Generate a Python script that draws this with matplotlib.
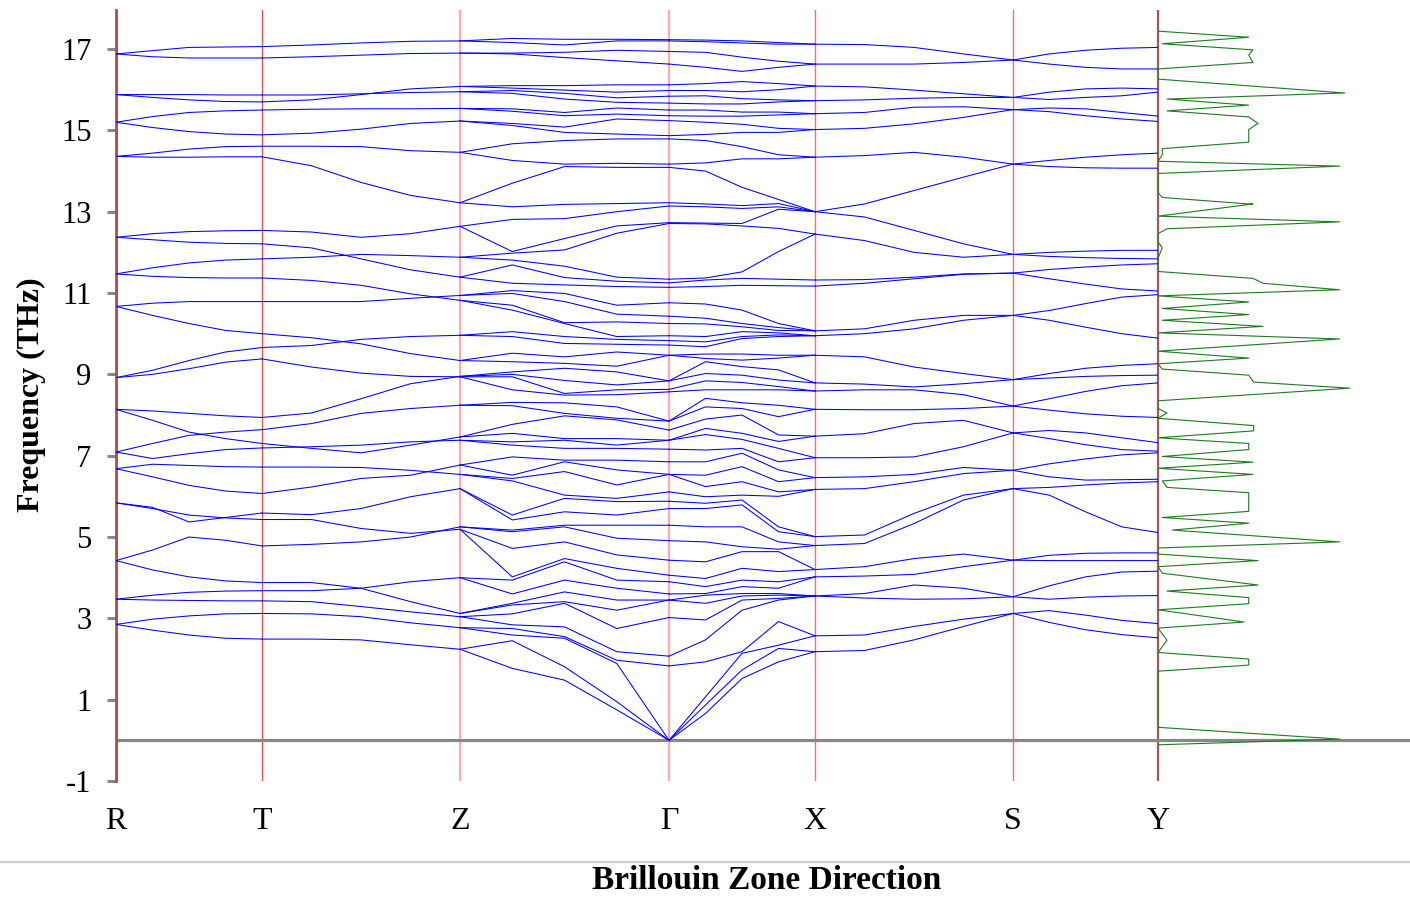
import numpy as np
import matplotlib
matplotlib.use("Agg")
import matplotlib.pyplot as plt
from matplotlib.transforms import blended_transform_factory
from matplotlib.lines import Line2D

plt.rcParams['font.family'] = ['Liberation Serif', 'DejaVu Serif']
plt.rcParams['axes.unicode_minus'] = False

# high-symmetry points (path distance, arbitrary units)
k_labels = ['R', 'T', 'Z', 'Γ', 'X', 'S', 'Y']
k_pos = [0, 146, 344, 553, 699, 897, 1042]

# ---- band data: each row a band, values (THz) sampled evenly along the segment ----
seg_RT = [
    [16.88, 16.96, 17.04, 17.05, 17.06], [16.88, 16.81, 16.78, 16.78, 16.78],
    [15.88, 15.88, 15.88, 15.87, 15.87], [15.88, 15.81, 15.75, 15.71, 15.70],
    [15.20, 15.34, 15.44, 15.48, 15.50], [15.20, 15.07, 14.97, 14.91, 14.89],
    [14.36, 14.44, 14.54, 14.60, 14.61], [14.36, 14.34, 14.34, 14.35, 14.35],
    [12.37, 12.46, 12.51, 12.53, 12.54], [12.37, 12.31, 12.25, 12.22, 12.21],
    [11.47, 11.62, 11.74, 11.81, 11.84], [11.47, 11.41, 11.38, 11.37, 11.37],
    [10.67, 10.75, 10.79, 10.79, 10.79], [10.67, 10.45, 10.25, 10.08, 10.00],
    [8.92, 9.10, 9.34, 9.55, 9.66], [8.92, 9.00, 9.14, 9.30, 9.38],
    [8.14, 8.10, 8.04, 7.98, 7.94], [8.14, 7.87, 7.58, 7.42, 7.30],
    [7.09, 7.30, 7.50, 7.58, 7.64], [7.09, 6.93, 7.05, 7.15, 7.19],
    [6.68, 6.79, 6.76, 6.73, 6.72], [6.68, 6.48, 6.27, 6.13, 6.07],
    [5.84, 5.70, 5.54, 5.47, 5.43], [5.84, 5.73, 5.37, 5.48, 5.59],
    [4.42, 4.68, 5.00, 4.92, 4.78], [4.42, 4.19, 4.02, 3.92, 3.88],
    [3.47, 3.57, 3.64, 3.67, 3.68], [3.47, 3.45, 3.44, 3.43, 3.43],
    [2.85, 2.98, 3.06, 3.11, 3.12], [2.85, 2.71, 2.59, 2.51, 2.49],
]
seg_TZ = [
    [17.06, 17.10, 17.15, 17.19, 17.20], [16.78, 16.81, 16.85, 16.89, 16.90],
    [15.87, 15.87, 15.90, 15.93, 15.95], [15.70, 15.75, 15.88, 16.02, 16.08],
    [15.50, 15.52, 15.53, 15.53, 15.54], [14.89, 14.93, 15.03, 15.17, 15.23],
    [14.61, 14.61, 14.60, 14.50, 14.46], [14.35, 14.13, 13.72, 13.40, 13.22],
    [12.54, 12.50, 12.37, 12.46, 12.64], [12.21, 12.11, 11.84, 11.57, 11.39],
    [11.84, 11.88, 11.95, 11.92, 11.88], [11.37, 11.31, 11.19, 10.98, 10.82],
    [10.79, 10.79, 10.79, 10.87, 10.94], [10.00, 9.90, 9.75, 9.51, 9.34],
    [9.66, 9.71, 9.86, 9.93, 9.96], [9.38, 9.18, 9.03, 8.95, 8.94],
    [7.94, 8.05, 8.40, 8.77, 8.95], [7.64, 7.79, 8.04, 8.16, 8.24],
    [7.30, 7.18, 7.07, 7.26, 7.46], [7.19, 7.22, 7.26, 7.34, 7.38],
    [6.72, 6.72, 6.71, 6.64, 6.54], [6.07, 6.23, 6.44, 6.52, 6.77],
    [5.59, 5.55, 5.70, 5.99, 6.19], [5.43, 5.43, 5.21, 5.09, 5.19],
    [4.78, 4.82, 4.88, 5.00, 5.25], [3.88, 3.88, 3.74, 3.41, 3.12],
    [3.68, 3.68, 3.74, 3.90, 4.00], [3.43, 3.41, 3.29, 3.16, 3.04],
    [3.12, 3.11, 3.04, 2.89, 2.77], [2.49, 2.49, 2.47, 2.35, 2.24],
]
# Z-Gamma and Gamma-X: band frequencies at 5 evenly spaced points (each list = one point)
zg_cols = [
    [2.24, 2.24, 2.77, 2.77, 3.04, 3.04, 3.12, 3.12, 4.00, 4.00, 5.19, 5.19, 5.25, 5.25, 6.19, 6.19,
     6.54, 6.54, 6.77, 6.77, 7.38, 7.38, 7.46, 7.46, 8.24, 8.24,
     8.94, 8.94, 8.95, 8.95, 9.34, 9.34, 9.96, 9.96, 10.82, 10.82, 10.94, 10.94, 11.39, 11.39,
     11.88, 11.88, 12.64, 12.64, 13.22, 13.22, 14.46, 14.46, 15.23, 15.23, 15.54, 15.54,
     15.95, 15.95, 16.08, 16.08, 16.90, 16.90, 17.20, 17.20],
    [1.77, 2.45, 2.59, 2.75, 2.84, 3.11, 3.33, 3.37, 3.60, 3.94, 4.02, 4.72, 5.13, 5.17, 5.42, 5.54,
     6.38, 6.44, 6.52, 6.97, 7.26, 7.34, 7.55, 7.77, 8.23, 8.31,
     8.62, 8.94, 9.00, 9.06, 9.31, 9.52, 9.93, 10.05, 10.58, 10.70, 10.99, 11.06, 11.24, 11.69,
     11.81, 11.98, 12.02, 12.81, 13.12, 13.70, 14.26, 14.67, 15.12, 15.17, 15.47, 15.53,
     15.91, 15.98, 16.04, 16.10, 16.88, 16.90, 17.16, 17.26],
    [1.48, 1.81, 2.51, 2.55, 2.79, 3.37, 3.41, 3.65, 3.94, 4.39, 4.47, 4.88, 5.25, 5.29, 5.62, 5.95,
     6.03, 6.61, 6.85, 6.89, 7.18, 7.38, 7.42, 7.98, 8.04, 8.30,
     8.49, 8.53, 8.85, 9.15, 9.27, 9.43, 9.76, 9.93, 10.25, 10.27, 10.79, 10.99, 11.20, 11.38,
     11.66, 12.06, 12.34, 12.83, 13.18, 14.11, 14.17, 14.75, 14.95, 15.08, 15.36, 15.44,
     15.77, 15.91, 15.99, 16.10, 16.79, 16.92, 17.10, 17.24],
    [0.75, 0.95, 1.89, 1.97, 2.18, 2.75, 3.20, 3.45, 3.74, 3.94, 4.23, 4.56, 4.97, 5.29, 5.54, 5.87,
     5.95, 6.28, 6.65, 6.89, 7.18, 7.26, 7.42, 7.88, 7.92, 8.20,
     8.50, 8.62, 8.74, 9.06, 9.20, 9.55, 9.74, 9.86, 9.93, 10.29, 10.48, 10.70, 11.16, 11.29,
     11.39, 12.47, 12.65, 13.00, 13.20, 14.09, 14.19, 14.79, 14.91, 15.28, 15.40, 15.55,
     15.69, 15.80, 15.94, 16.12, 16.71, 16.97, 17.20, 17.24],
    [0.0, 0.0, 0.0, 1.83, 2.07, 3.02, 3.45, 3.45, 3.60, 3.90, 4.06, 4.43, 4.91, 5.29, 5.70, 5.88,
     6.11, 6.54, 6.54, 6.85, 7.16, 7.38, 7.38, 7.63, 7.85, 7.85,
     8.57, 8.63, 8.84, 8.84, 9.47, 9.47, 9.72, 9.83, 9.95, 10.25, 10.43, 10.76, 11.14, 11.25,
     11.34, 12.71, 12.73, 13.14, 13.22, 14.09, 14.17, 14.79, 14.87, 15.24, 15.36, 15.50,
     15.67, 15.84, 15.98, 16.12, 16.63, 16.94, 17.20, 17.23],
]
gx_cols = [
    zg_cols[4],
    [0.66, 0.87, 1.07, 1.93, 2.47, 2.96, 3.37, 3.57, 3.61, 3.78, 3.98, 4.39, 4.88, 5.25, 5.70, 5.83,
     5.99, 6.24, 6.52, 6.85, 7.14, 7.52, 7.67, 7.90, 8.20, 8.41,
     8.62, 8.84, 9.02, 9.31, 9.39, 9.50, 9.68, 9.80, 9.93, 10.24, 10.38, 10.73, 11.16, 11.32,
     11.37, 12.70, 12.72, 13.12, 13.19, 14.00, 14.20, 14.75, 14.90, 15.20, 15.35, 15.50,
     15.65, 15.85, 15.98, 16.15, 16.55, 16.92, 17.18, 17.22],
    [1.52, 1.73, 2.14, 2.18, 3.20, 3.45, 3.55, 3.61, 3.78, 3.94, 4.23, 4.64, 4.76, 5.25, 5.79, 5.91,
     6.03, 6.36, 6.73, 7.06, 7.18, 7.40, 7.55, 8.00, 8.16, 8.30,
     8.62, 8.80, 8.98, 9.19, 9.35, 9.50, 9.88, 9.93, 10.05, 10.17, 10.25, 10.58, 11.19, 11.36,
     11.52, 12.65, 12.71, 13.08, 13.15, 13.60, 14.30, 14.60, 14.95, 15.15, 15.35, 15.45,
     15.65, 15.78, 15.95, 16.20, 16.45, 16.80, 17.15, 17.20],
    [1.93, 2.26, 2.34, 2.92, 3.45, 3.49, 3.57, 3.61, 3.74, 3.90, 4.15, 4.64, 4.70, 4.88, 5.13, 5.25,
     6.00, 6.11, 6.36, 6.65, 6.85, 7.18, 7.35, 7.51, 7.96, 8.24,
     8.62, 8.70, 8.86, 9.11, 9.40, 9.47, 9.93, 9.97, 10.02, 10.08, 10.15, 10.25, 11.18, 11.34,
     12.02, 12.59, 13.06, 13.12, 13.20, 13.30, 14.30, 14.40, 14.95, 15.05, 15.38, 15.45,
     15.70, 15.75, 16.00, 16.15, 16.55, 16.70, 17.12, 17.16],
    [2.18, 2.18, 2.57, 2.57, 3.55, 3.55, 3.55, 3.55, 4.02, 4.02, 4.20, 4.20, 4.79, 4.79, 5.01, 5.01,
     6.17, 6.17, 6.46, 6.46, 6.95, 6.95, 7.48, 7.48, 8.14, 8.14,
     8.59, 8.59, 8.79, 8.79, 9.47, 9.47, 9.95, 9.95, 9.95, 10.07, 10.07, 10.07, 11.17, 11.32,
     12.45, 12.45, 13.00, 13.00, 13.00, 13.00, 14.34, 14.34, 15.02, 15.02, 15.41, 15.41,
     15.73, 15.73, 16.09, 16.09, 16.63, 16.63, 17.12, 17.12],
]
seg_XS = [
    [17.12, 17.11, 17.04, 16.88, 16.73], [16.63, 16.63, 16.63, 16.67, 16.73],
    [16.09, 16.07, 15.99, 15.90, 15.81], [15.73, 15.75, 15.79, 15.81, 15.81],
    [15.41, 15.44, 15.57, 15.58, 15.51], [15.02, 15.05, 15.16, 15.32, 15.51],
    [14.34, 14.38, 14.46, 14.34, 14.17], [13.00, 13.19, 13.52, 13.85, 14.17],
    [13.00, 12.87, 12.54, 12.21, 11.95], [12.45, 12.29, 12.00, 11.88, 11.95],
    [11.32, 11.33, 11.39, 11.47, 11.49], [11.17, 11.24, 11.35, 11.46, 11.49],
    [10.07, 10.12, 10.33, 10.45, 10.45], [9.95, 10.00, 10.12, 10.33, 10.45],
    [9.47, 9.43, 9.18, 9.02, 8.87], [8.79, 8.76, 8.69, 8.77, 8.87],
    [8.59, 8.62, 8.62, 8.50, 8.22], [8.14, 8.13, 8.13, 8.16, 8.22],
    [7.48, 7.54, 7.79, 7.87, 7.56], [6.95, 6.95, 6.97, 7.22, 7.56],
    [6.46, 6.48, 6.54, 6.71, 6.64], [6.17, 6.19, 6.36, 6.56, 6.64],
    [5.01, 5.05, 5.58, 6.03, 6.19], [4.79, 4.84, 5.33, 5.91, 6.19],
    [4.20, 4.27, 4.47, 4.58, 4.43], [4.02, 4.04, 4.08, 4.27, 4.43],
    [3.55, 3.61, 3.82, 3.74, 3.53], [3.55, 3.50, 3.47, 3.48, 3.53],
    [2.57, 2.59, 2.80, 2.98, 3.12], [2.18, 2.21, 2.47, 2.80, 3.12],
]
seg_SY = [
    [16.73, 16.88, 16.97, 17.02, 17.04], [16.73, 16.63, 16.55, 16.51, 16.51],
    [15.81, 15.94, 16.02, 16.04, 16.02], [15.81, 15.76, 15.81, 15.85, 15.94],
    [15.51, 15.55, 15.53, 15.44, 15.35], [15.51, 15.46, 15.36, 15.28, 15.22],
    [14.17, 14.26, 14.34, 14.40, 14.44], [14.17, 14.11, 14.08, 14.07, 14.07],
    [11.95, 12.00, 12.03, 12.05, 12.05], [11.95, 11.90, 11.87, 11.85, 11.84],
    [11.49, 11.58, 11.64, 11.69, 11.72], [11.49, 11.35, 11.22, 11.10, 11.05],
    [10.45, 10.57, 10.74, 10.90, 10.96], [10.45, 10.33, 10.16, 10.00, 9.89],
    [8.87, 9.02, 9.15, 9.22, 9.26], [8.87, 8.91, 8.95, 8.97, 8.98],
    [8.22, 8.40, 8.58, 8.72, 8.79], [8.22, 8.12, 8.03, 7.97, 7.94],
    [7.56, 7.62, 7.56, 7.44, 7.32], [7.56, 7.42, 7.27, 7.15, 7.11],
    [6.64, 6.80, 6.92, 7.02, 7.07], [6.64, 6.48, 6.40, 6.41, 6.42],
    [6.19, 6.22, 6.28, 6.33, 6.36], [6.19, 6.03, 5.62, 5.25, 5.11],
    [4.43, 4.55, 4.60, 4.61, 4.61], [4.43, 4.42, 4.42, 4.42, 4.42],
    [3.53, 3.47, 3.52, 3.55, 3.56], [3.53, 3.80, 4.02, 4.14, 4.16],
    [3.12, 3.19, 3.08, 2.95, 2.87], [3.12, 2.90, 2.72, 2.60, 2.52],
]

# ---- phonon DOS (frequency, arbitrary units) ----
dos_freq = [17.44, 17.29, 17.13, 16.98, 16.85, 16.67, 16.51, 16.26, 15.92, 15.77,
            15.62, 15.48, 15.33, 15.17, 15.02, 14.71, 14.55, 14.40, 14.24, 14.12,
            13.94, 13.47, 13.35, 13.19, 13.19, 12.89, 12.75, 12.58, 12.46, 12.26,
            12.11, 11.86, 11.53, 11.36, 11.24, 11.08, 10.93, 10.78, 10.62, 10.47,
            10.33, 10.18, 10.02, 9.87, 9.57, 9.40, 9.26, 9.13, 8.98, 8.81,
            8.66, 8.35, 8.16, 8.05, 7.92, 7.74, 7.61, 7.44, 7.30, 7.15,
            6.98, 6.84, 6.69, 6.54, 6.38, 6.22, 6.09, 5.63, 5.48, 5.34,
            5.17, 4.88, 4.73, 4.58, 4.42, 4.27, 4.11, 3.82, 3.67, 3.51,
            3.36, 3.21, 2.91, 2.76, 2.46, 2.16, 2.00, 1.85, 1.70, 0.32,
            0.03, -0.11]
dos_val = [0, 90.7, 4.3, 95, 90.7, 95, 0, 0, 186.7, 9,
           90.7, 9, 90.7, 100, 90.7, 90.7, 4.3, 4.3, 0, 181.7,
           0, 0, 4.3, 90.7, 95, 0, 181.7, 9, 0, 0,
           4.3, 0, 0, 95, 105, 181.7, 0, 90.7, 4.3, 90.7,
           4.3, 105, 0, 181.7, 0, 90.7, 0, 4.3, 90.7, 95.7,
           191.7, 0, 0, 9, 0, 95.7, 95.7, 0, 90.7, 90.7,
           4.3, 95, 0, 95, 4.3, 9, 90.7, 90.7, 4.3, 90.7,
           14.3, 181.7, 0, 0, 100, 0, 4.3, 100, 9, 90.7,
           90.7, 0, 86, 0, 9, 0, 90.7, 90.7, 0, 0,
           181.7, 0]

W, H = 1410, 897
fig = plt.figure(figsize=(W / 100, H / 100), dpi=100)
ax = fig.add_axes([116 / W, 116 / H, 1042 / W, 771 / H])
axd = fig.add_axes([1158 / W, 116 / H, 252 / W, 771 / H], sharey=ax)

band_color = '#0000ff'
segments = [np.array(seg_RT), np.array(seg_TZ),
            np.array([np.sort(c) for c in zg_cols]).T,
            np.array([np.sort(c) for c in gx_cols]).T,
            np.array(seg_XS), np.array(seg_SY)]
for i, seg in enumerate(segments):
    ks = np.linspace(k_pos[i], k_pos[i + 1], seg.shape[1])
    for row in seg:
        ax.plot(ks, row, color=band_color, lw=0.75, zorder=3)

# zero line
ax.axhline(0, color='#888888', lw=2.3, zorder=2)
axd.axhline(0, color='#888888', lw=2.3, zorder=2)

# vertical high-symmetry lines
vcols = ['#b05050', '#e05555', '#ffaaaa', '#ffaaaa', '#ff6a6a', '#ff6a6a', '#a05a5a']
vlw = [2.0, 1.0, 1.6, 1.6, 1.0, 1.0, 1.6]
for k, c, w in zip(k_pos, vcols, vlw):
    ax.axvline(k, color=c, lw=w, zorder=1)

ax.set_xlim(k_pos[0], k_pos[-1])
ax.set_ylim(-1, 17.96)
ax.set_yticks(list(range(-1, 18, 2)))
ax.set_xticks([])
ax.tick_params(axis='y', direction='out', length=6.5, width=2.2, color='#888888',
               labelsize=22, pad=11)
for s in ['top', 'right', 'bottom']:
    ax.spines[s].set_visible(False)
ax.spines['left'].set_color('#b05050')
ax.spines['left'].set_linewidth(2.0)

# DOS panel
axd.plot(dos_val, dos_freq, color='#1f7a1f', lw=0.8, zorder=3)
axd.set_xlim(0, 252)
axd.axis('off')
axd.axvline(0, color='#a05a5a', lw=1.6, zorder=1)

# labels
trans = blended_transform_factory(ax.transData, fig.transFigure)
for k, lab in zip(k_pos, k_labels):
    ax.text(k, 1 - 821 / H, lab, transform=trans, ha='center', va='center', fontsize=23)

fig.text(31 / W, 1 - 395 / H, 'Frequency (THz)', rotation=90, ha='center', va='center',
         fontsize=23, fontweight='bold')
fig.add_artist(Line2D([0, 1], [1 - 862 / H] * 2, transform=fig.transFigure,
                      color='#cfcfcf', lw=1.6))
fig.text(767 / W, 1 - 880 / H, 'Brillouin Zone Direction', ha='center', va='center',
         fontsize=24, fontweight='bold')

fig.savefig('out.png', dpi=100)
